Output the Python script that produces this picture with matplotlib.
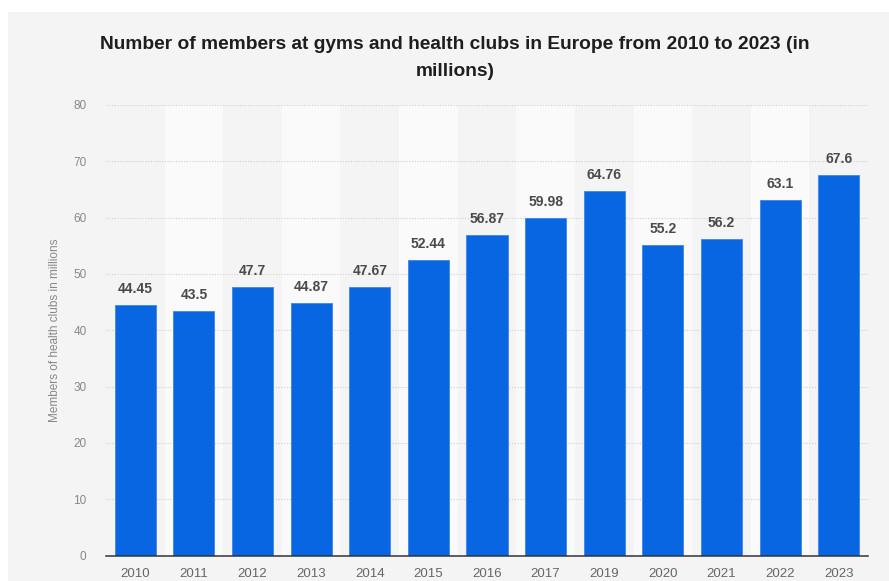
import numpy as np
import matplotlib
matplotlib.use("Agg")
import matplotlib.pyplot as plt
from matplotlib.patches import Rectangle

# members of gyms and health clubs in Europe, millions
years = ["2010", "2011", "2012", "2013", "2014", "2015", "2016",
         "2017", "2019", "2020", "2021", "2022", "2023"]
members = [44.45, 43.5, 47.7, 44.87, 47.67, 52.44, 56.87,
           59.98, 64.76, 55.2, 56.2, 63.1, 67.6]
labels = ["44.45", "43.5", "47.7", "44.87", "47.67", "52.44", "56.87",
          "59.98", "64.76", "55.2", "56.2", "63.1", "67.6"]

plt.rcParams['font.family'] = ['Liberation Sans', 'DejaVu Sans']

fig = plt.figure(figsize=(8.89, 5.81), dpi=100)
fig.patch.set_facecolor('white')
# grey panel behind everything
fig.patches.append(Rectangle((8/889, 0), 1, 1 - 12/581, transform=fig.transFigure,
                             facecolor='#f4f4f4', edgecolor='none', zorder=-10))

ax = fig.add_axes([106/889, 25.5/581, 762/889, 450.5/581])
ax.set_facecolor('none')
ax.set_zorder(1)

x = np.arange(len(years))

# lighter stripe on every other column
for i in x:
    if i % 2 == 1:
        ax.axvspan(i - 0.5, i + 0.5, color='#fafafa', zorder=0, lw=0)

ax.set_yticks(np.arange(0, 81, 10))
for v in range(10, 81, 10):
    ax.axhline(v, color='#cfcfcf', lw=0.8, ls=(0, (1, 1.5)), zorder=1)

ax.bar(x, members, width=0.7, color='#0866e2', edgecolor='#3d86ea', lw=0.6, zorder=2)

for xi, v, t in zip(x, members, labels):
    ax.text(xi, v + 1.6, t, ha='center', va='bottom', fontsize=10,
            fontweight='bold', color='#4a4a4a')

ax.set_xlim(-0.5, len(years) - 0.5)
ax.set_ylim(0, 80)
ax.set_xticks(x)
ax.set_xticklabels(years)
ax.tick_params(axis='x', length=0, pad=9, labelsize=9.5, labelcolor='#666666')
ax.tick_params(axis='y', length=0, pad=14, labelsize=8.5, labelcolor='#888888')

for s in ['top', 'right', 'left']:
    ax.spines[s].set_visible(False)
ax.spines['bottom'].set_color('#333333')
ax.spines['bottom'].set_linewidth(1.1)
ax.spines['bottom'].set_zorder(3)

ax.set_ylabel('Members of health clubs in millions', fontsize=8.5, color='#888888')
ax.yaxis.set_label_coords(-45/762, 0.5)

fig.text(455/889, 1 - 58/581,
         'Number of members at gyms and health clubs in Europe from 2010 to 2023 (in\nmillions)',
         ha='center', va='center', fontsize=13.8, fontweight='bold', color='#1e1e1e',
         linespacing=1.75)

fig.savefig('out.png', dpi=100, facecolor=fig.get_facecolor())
